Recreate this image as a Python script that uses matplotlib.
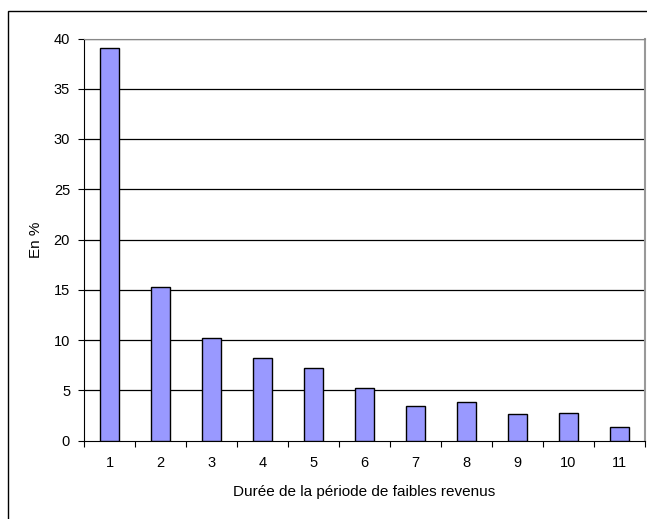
import matplotlib
matplotlib.use("Agg")
import matplotlib.pyplot as plt
from matplotlib.patches import Rectangle

durations = [1, 2, 3, 4, 5, 6, 7, 8, 9, 10, 11]
shares = [39.1, 15.3, 10.2, 8.2, 7.2, 5.2, 3.4, 3.8, 2.6, 2.7, 1.3]
yticks = [0, 5, 10, 15, 20, 25, 30, 35, 40]

plt.rcParams['font.family'] = ['Liberation Sans', 'DejaVu Sans']

W, H = 647, 519
fig = plt.figure(figsize=(W / 100, H / 100), dpi=100)

# plot area in pixel coordinates
left, right, top, bottom = 84, 645, 38.5, 440.5
ax = fig.add_axes([left / W, 1 - bottom / H, (right - left) / W, (bottom - top) / H])

ax.bar(durations, shares, width=0.38, color='#9999FF', edgecolor='black',
       linewidth=1.0, zorder=3)

ax.set_xlim(0.5, 11.5)
ax.set_ylim(0, 40)
ax.set_yticks(yticks)
ax.set_xticks(durations)
ax.set_xticks([d + 0.5 for d in [0] + durations], minor=True)
ax.tick_params(axis='x', which='major', length=0, pad=11, labelsize=10.5)
ax.tick_params(axis='x', which='minor', length=4, direction='out', width=0.8)
ax.tick_params(axis='y', length=4, direction='out', width=0.8, pad=6, labelsize=10.5)

for y in yticks[1:]:
    ax.axhline(y, color='black', linewidth=0.9, zorder=1)

ax.spines['left'].set_color('black')
ax.spines['bottom'].set_color('black')
ax.spines['top'].set_color('#888888')
ax.spines['right'].set_color('#999999')
ax.spines['right'].set_linewidth(1.5)

ax.set_xlabel('Durée de la période de faibles revenus', fontsize=11, labelpad=11)
ax.set_ylabel('En %', fontsize=11, labelpad=8)

# outer chart frame
fig.patches.append(Rectangle((7.5 / W, -0.1), 1.0, 1 - 10.5 / H + 0.1,
                             transform=fig.transFigure, fill=False,
                             edgecolor='black', linewidth=1.0, clip_on=False))

fig.savefig('out.png', dpi=100)
